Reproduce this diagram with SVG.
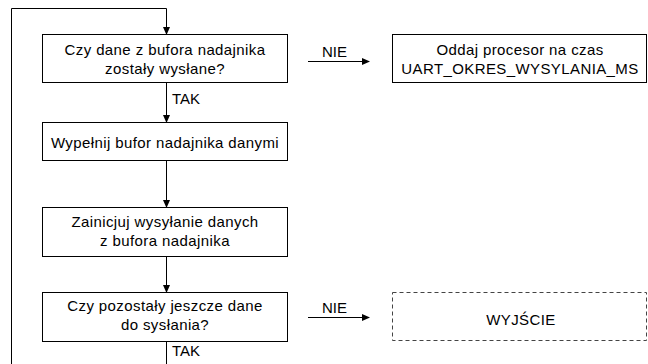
<svg xmlns="http://www.w3.org/2000/svg" width="648" height="364" viewBox="0 0 648 364">
<style>
.box{fill:#fff;stroke:#000;stroke-width:1}
.dash{fill:#fff;stroke:#444;stroke-width:1;stroke-dasharray:4,3}
.t{font-family:"Liberation Sans",Arial,sans-serif;font-size:15px;letter-spacing:0.4px;fill:#000;text-anchor:middle}
.l{font-family:"Liberation Sans",Arial,sans-serif;font-size:15px;fill:#000}
.c{fill:none;stroke:#000;stroke-width:1}
</style>
<defs>
<marker id="ah" markerWidth="8" markerHeight="8" refX="7" refY="4" orient="auto" markerUnits="userSpaceOnUse">
<path d="M0,0.5 L8,4 L0,7.5 Z" fill="#000"/>
</marker>
</defs>
<g id="connectors">
<path class="c" d="M11.5,364 V8.5 H166.5 V34" marker-end="url(#ah)"/>
<path class="c" d="M166.5,83 V122" marker-end="url(#ah)"/>
<path class="c" d="M166.5,160 V207" marker-end="url(#ah)"/>
<path class="c" d="M166.5,257 V292" marker-end="url(#ah)"/>
<path class="c" d="M166.5,342 V364"/>
<path class="c" d="M308,61.5 H369" marker-end="url(#ah)"/>
<path class="c" d="M308,317.5 H369" marker-end="url(#ah)"/>
<text class="l" x="172" y="104">TAK</text>
<text class="l" x="172" y="356">TAK</text>
<text class="l" x="322" y="57">NIE</text>
<text class="l" x="322" y="313">NIE</text>
</g>
<g id="n1">
<rect class="box" x="42.5" y="34.5" width="245" height="48"/>
<text class="t" x="165" y="55">Czy dane z bufora nadajnika</text>
<text class="t" x="165" y="74">zostały wysłane?</text>
</g>
<g id="n2">
<rect class="box" x="42.5" y="122.5" width="245" height="38"/>
<text class="t" x="165" y="148">Wypełnij bufor nadajnika danymi</text>
</g>
<g id="n3">
<rect class="box" x="42.5" y="207.5" width="245" height="49"/>
<text class="t" x="165" y="227">Zainicjuj wysyłanie danych</text>
<text class="t" x="165" y="246">z bufora nadajnika</text>
</g>
<g id="n4">
<rect class="box" x="42.5" y="292.5" width="245" height="49"/>
<text class="t" x="165" y="311">Czy pozostały jeszcze dane</text>
<text class="t" x="165" y="330">do sysłania?</text>
</g>
<g id="n5">
<rect class="box" x="392.5" y="34.5" width="254" height="48"/>
<text class="t" x="520" y="55">Oddaj procesor na czas</text>
<text class="t" x="520" y="74">UART_OKRES_WYSYLANIA_MS</text>
</g>
<g id="n6">
<rect class="dash" x="392.5" y="292.5" width="254" height="48"/>
<text class="t" x="521" y="325">WYJŚCIE</text>
</g>
</svg>
